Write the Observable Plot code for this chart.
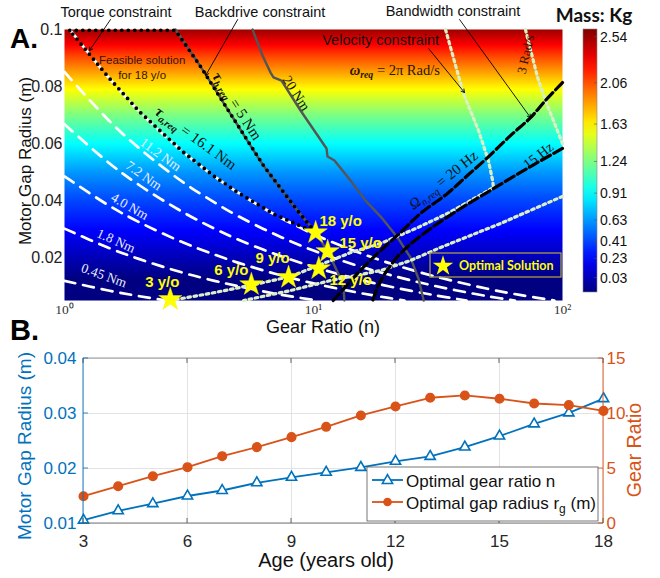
<!DOCTYPE html>
<html>
<head>
<meta charset="utf-8">
<script src="https://cdn.jsdelivr.net/npm/d3@7"></script>
<script src="https://cdn.jsdelivr.net/npm/@observablehq/plot@0.6"></script>
<style>
  html,body{margin:0;padding:0;background:#fff;}
  #wrap{position:relative;width:660px;height:578px;overflow:hidden;}
  #wrap > svg{position:absolute;left:0;}
</style>
</head>
<body>
<div id="wrap"></div>
<script>
// ================= PANEL A DATA =================
// mass (kg) vs motor gap radius, read from colour bar ticks / heat map
const massR  = [0.02, 0.03, 0.04, 0.05, 0.06, 0.07, 0.08, 0.09, 0.10];
const massKg = [0.03, 0.23, 0.41, 0.63, 0.91, 1.24, 1.63, 2.06, 2.54];
const colorbarRange = [-0.12, 2.62];

// torque contours (white dashed): gear ratio n, radius r
const torqueLabels = ["0.45 Nm", "1.8 Nm", "4.0 Nm", "7.2 Nm", "11.2 Nm", "16.1 Nm"];
const tq045N = [1, 1.5, 2, 2.58];
const tq045R = [0.0119, 0.0085, 0.0065, 0.005];
const tq18N  = [1, 1.5, 2, 3, 4, 5, 7, 10.3];
const tq18R  = [0.0302, 0.0235, 0.0195, 0.0147, 0.0119, 0.0100, 0.0074, 0.005];
const tq40N  = [1, 1.5, 2, 3, 4, 5, 7, 10, 15, 20, 23.2];
const tq40R  = [0.0485, 0.0384, 0.0324, 0.0253, 0.0211, 0.0182, 0.0144, 0.0110, 0.0078, 0.0059, 0.005];
const tq72N  = [1, 1.5, 2, 3, 4, 5, 7, 10, 15, 20, 30, 41.2];
const tq72R  = [0.0668, 0.0534, 0.0454, 0.0359, 0.0302, 0.0263, 0.0213, 0.0168, 0.0125, 0.0100, 0.0070, 0.005];
const tq112N = [1, 1.5, 2, 3, 4, 5, 7, 10, 15, 20, 30, 50, 64.4];
const tq112R = [0.0851, 0.0683, 0.0583, 0.0464, 0.0394, 0.0345, 0.0282, 0.0225, 0.0172, 0.0141, 0.0103, 0.0065, 0.005];
const tq161N = [1.05, 1.5, 2, 3, 4, 5, 7, 10, 15, 20, 30, 50, 70, 92.8];
const tq161R = [0.1, 0.0833, 0.0712, 0.0570, 0.0485, 0.0427, 0.0351, 0.0283, 0.0220, 0.0182, 0.0137, 0.0091, 0.0067, 0.005];

// backdrive contours (grey solid)
const bd5N  = [2.79, 3.52, 4.77, 6.3, 8.63, 10.2, 11.2, 12.3, 13.1, 13.3];
const bd5R  = [0.1, 0.087, 0.0688, 0.0523, 0.0365, 0.0288, 0.0232, 0.0162, 0.0103, 0.005];
const bd20N = [5.69, 6.24, 6.72, 6.91, 7.44, 8.87, 11.28, 11.38, 12.14, 14.08, 16.18, 18.93, 21.75, 24.5, 26.4, 27.7];
const bd20R = [0.1, 0.0909, 0.0849, 0.0832, 0.0821, 0.0716, 0.0583, 0.0555, 0.0541, 0.0471, 0.04, 0.0337, 0.0271, 0.0201, 0.0127, 0.005];

// velocity contours (light dotted)
const vel2piN = [33.9, 40.0, 46.0, 50.4, 52.4, 52.8, 42.7, 34.5, 25.7, 18.6, 14.1, 10.7, 8.08, 5.58, 3.86, 2.66];
const vel2piR = [0.1, 0.0776, 0.0646, 0.0541, 0.0471, 0.0446, 0.04, 0.0355, 0.0302, 0.025, 0.0218, 0.0176, 0.0134, 0.0103, 0.0075, 0.005];
const vel3aN  = [71.0, 79.4, 85.4, 93.7, 100];
const vel3aR  = [0.1, 0.0832, 0.0751, 0.0663, 0.06];
const vel3bN  = [100, 56.4, 32.4, 24.5, 18.6, 11.7, 8.1, 5.24];
const vel3bR  = [0.0415, 0.032, 0.0236, 0.019, 0.0155, 0.012, 0.0085, 0.005];

// bandwidth contours (black dashed)
const bw20N = [100, 85.4, 74.4, 61.8, 50.0, 41.5, 34.5, 26.9, 22.4, 18.6, 15.4, 13.4, 12.0];
const bw20R = [0.0814, 0.0751, 0.0691, 0.0628, 0.0551, 0.0488, 0.0425, 0.0355, 0.0289, 0.0225, 0.0155, 0.0096, 0.005];
const bw15N = [100, 82.1, 67.8, 51.4, 38.9, 29.5, 23.4, 20.4, 18.2, 17.3];
const bw15R = [0.0583, 0.0541, 0.0499, 0.0436, 0.0372, 0.0302, 0.0232, 0.0173, 0.0103, 0.005];

// feasible region boundary for 18 y/o (black dotted)
const feasN = [1.05, 2.79, 3.52, 4.77, 6.3, 8.63, 10.2, 7, 5, 4, 3, 2, 1.5, 1.05];
const feasR = [0.0997, 0.0997, 0.087, 0.0688, 0.0523, 0.0365, 0.0288, 0.0351, 0.0427, 0.0485, 0.057, 0.0712, 0.0833, 0.0997];

// optimal solutions (stars)
const starLabels = ["3 y/o", "6 y/o", "9 y/o", "12 y/o", "15 y/o", "18 y/o"];
const starN = [2.66, 5.63, 7.94, 10.5, 11.4, 10.2];
const starR = [0.0054, 0.0106, 0.0131, 0.0162, 0.0222, 0.0288];

const xTicksA = [1, 10, 100];
const xTickLabelsA = ["10\u2070", "10\u00b9", "10\u00b2"];
const yTicksA = [0.02, 0.04, 0.06, 0.08, 0.1];

// ================= PANEL B DATA =================
const ages = [3, 4, 5, 6, 7, 8, 9, 10, 11, 12, 13, 14, 15, 16, 17, 18];
const gapRadius = [0.0106, 0.0123, 0.0136, 0.0150, 0.0160, 0.0174, 0.0184, 0.0193, 0.0202, 0.0213, 0.0222, 0.0239, 0.0259, 0.0281, 0.0301, 0.0327];
const gearRatio = [2.48, 3.39, 4.30, 5.12, 6.12, 6.94, 7.85, 8.79, 9.82, 10.64, 11.43, 11.64, 11.34, 10.91, 10.76, 10.24];
const ageTicks = [3, 6, 9, 12, 15, 18];
const radiusTicks = [0.01, 0.02, 0.03, 0.04];
const gearTicks = [0, 5, 10, 15];

// ================= helpers =================
const SANS = "'Liberation Sans', Arial, sans-serif";
const SERIF = "'Liberation Serif', 'Times New Roman', serif";
const CAL = "Lato, 'Liberation Sans', sans-serif";
const BLUE = "#0072BD", ORANGE = "#D95319";

function jet(t) {
  const c = v => Math.round(255 * Math.max(0, Math.min(1, v)));
  return `rgb(${c(1.5 - Math.abs(4 * t - 3))},${c(1.5 - Math.abs(4 * t - 2))},${c(1.5 - Math.abs(4 * t - 1))})`;
}
const massAt = d3.scaleLinear().domain(massR).range(massKg);
const rows = (id, N, R) => N.map((n, i) => ({id, n, r: R[i]}));

const torqueRows = [
  ...rows(torqueLabels[0], tq045N, tq045R), ...rows(torqueLabels[1], tq18N, tq18R),
  ...rows(torqueLabels[2], tq40N, tq40R), ...rows(torqueLabels[3], tq72N, tq72R),
  ...rows(torqueLabels[4], tq112N, tq112R), ...rows(torqueLabels[5], tq161N, tq161R)
];
const velRows = [...rows("2pi", vel2piN, vel2piR), ...rows("3a", vel3aN, vel3aR), ...rows("3b", vel3bN, vel3bR)];
const bwRows = [...rows("20", bw20N, bw20R), ...rows("15", bw15N, bw15R)];
const feasRows = rows("feas", feasN, feasR);
const stars = starLabels.map((label, i) => ({label, n: starN[i], r: starR[i]}));
const starOffsets = [[-8, -17], [-20, -14], [-16, -19], [32, 12], [33, -8], [25, -11]];

const arrows = [
  {n1: 1.53, r1: 0.1035, n2: 1.26, r2: 0.0926},
  {n1: 4.96, r1: 0.1035, n2: 3.69, r2: 0.0839},
  {n1: 38.6, r1: 0.1035, n2: 74.4, r2: 0.0691},
  {n1: 29.0, r1: 0.0933, n2: 40.4, r2: 0.0779}
];

// ================= PANEL A =================
const wrap = d3.select("#wrap");
const chartA = Plot.plot({
  width: 660, height: 340,
  marginTop: 29, marginRight: 98, marginBottom: 40, marginLeft: 64,
  style: {fontFamily: SANS, background: "white", overflow: "visible"},
  x: {type: "log", domain: [1, 100]},
  y: {domain: [0.005, 0.1]},
  color: {type: "linear", domain: colorbarRange, interpolate: jet, clamp: true},
  marks: [
    Plot.raster({x1: 1, x2: 100, y1: 0.005, y2: 0.1, fill: (n, r) => massAt(r), pixelSize: 1}),
    Plot.line(torqueRows, {x: "n", y: "r", z: "id", stroke: "white", strokeWidth: 2.7, strokeDasharray: "11,8", curve: "catmull-rom"}),
    Plot.line(rows("bd5", bd5N, bd5R), {x: "n", y: "r", stroke: "#555", strokeWidth: 2.4, curve: "catmull-rom"}),
    Plot.line(rows("bd20", bd20N, bd20R), {x: "n", y: "r", stroke: "#555", strokeWidth: 2.4}),
    Plot.line(velRows, {x: "n", y: "r", z: "id", stroke: "#dcf0c4", strokeWidth: 3.2, strokeDasharray: "2.6,3.6"}),
    Plot.line(bwRows, {x: "n", y: "r", z: "id", stroke: "black", strokeWidth: 3.2, strokeDasharray: "10,4", curve: "catmull-rom"}),
    Plot.line(feasRows, {x: "n", y: "r", stroke: "black", strokeWidth: 3.8, strokeDasharray: "0,6.5", strokeLinecap: "round"}),
    Plot.arrow(arrows, {x1: "n1", y1: "r1", x2: "n2", y2: "r2", stroke: "black", strokeWidth: 0.9, headLength: 6}),
    Plot.dot(stars, {x: "n", y: "r", symbol: "star", r: 7.3, fill: "#ffff00", stroke: "#f0f000", strokeWidth: 0.5}),
    ...stars.map((s, i) => Plot.text([s], {x: "n", y: "r", text: "label", dx: starOffsets[i][0], dy: starOffsets[i][1],
      fill: "#ffff00", fontWeight: "bold", fontSize: 15, fontFamily: SANS})),
    Plot.axisX({ticks: xTicksA, tickFormat: (d, i) => xTickLabelsA[xTicksA.indexOf(d)], tickSize: 0, tickPadding: 4,
      label: null, fontSize: 13.5, fontFamily: SERIF, fill: "#333"}),
    Plot.axisY({ticks: yTicksA, tickFormat: d3.format("~g"), tickSize: 0, tickPadding: 2, label: null, fontSize: 16, fill: "#222"})
  ]
});
d3.select(chartA).style("top", "0px");
wrap.node().appendChild(chartA);

// ================= PANEL B =================
const bRows = ages.map((a, i) => ({age: a, radius: gapRadius[i], gear: gearRatio[i]}));
const BT = 340;
const commonB = {width: 660, height: 238, marginTop: 18, marginBottom: 55, marginLeft: 83, marginRight: 57};
const chartB1 = Plot.plot({
  ...commonB,
  style: {fontFamily: SANS, background: "transparent"},
  x: {domain: [3, 18]},
  y: {domain: [0.01, 0.04]},
  marks: [
    Plot.gridX(ageTicks, {stroke: "#e3e3e3", strokeOpacity: 1}),
    Plot.gridY(radiusTicks, {stroke: "#e3e3e3", strokeOpacity: 1}),
    Plot.axisX({ticks: ageTicks, tickSize: 0, tickPadding: 11, label: null, fontSize: 17, fill: "#262626"}),
    Plot.axisY({ticks: radiusTicks, tickFormat: d => d.toFixed(2), tickSize: 0, tickPadding: 7, label: null, fontSize: 17, fill: BLUE}),
    Plot.line(bRows, {x: "age", y: "radius", stroke: BLUE, strokeWidth: 1.8}),
    Plot.dot(bRows, {x: "age", y: "radius", symbol: "triangle", r: 3.8, stroke: BLUE, strokeWidth: 1.6, fill: "white"})
  ]
});
const chartB2 = Plot.plot({
  ...commonB,
  style: {fontFamily: SANS, background: "transparent"},
  x: {domain: [3, 18], axis: null},
  y: {domain: [0, 15]},
  marks: [
    Plot.axisY({anchor: "right", ticks: gearTicks, tickSize: 0, tickPadding: 3, label: null, fontSize: 17, fill: ORANGE}),
    Plot.line(bRows, {x: "age", y: "gear", stroke: ORANGE, strokeWidth: 1.8}),
    Plot.dot(bRows, {x: "age", y: "gear", r: 4.3, fill: ORANGE, stroke: ORANGE})
  ]
});
d3.select(chartB1).style("top", BT + "px");
d3.select(chartB2).style("top", BT + "px");
wrap.node().appendChild(chartB1);
wrap.node().appendChild(chartB2);

// ================= OVERLAY (titles, colour bar, labels, legends) =================
const ov = wrap.append("svg").attr("width", 660).attr("height", 578)
  .style("top", "0px").style("pointer-events", "none");
const sx = chartA.scale("x"), sy = chartA.scale("y");
const X = n => sx.apply(n), Y = r => sy.apply(r);

function txt(x, y, s, o = {}) {
  const t = ov.append("text").attr("x", x).attr("y", y).text(s)
    .attr("font-family", o.family || SANS).attr("font-size", o.size || 14)
    .attr("fill", o.fill || "#111").attr("text-anchor", o.anchor || "middle")
    .attr("dominant-baseline", "central");
  if (o.weight) t.attr("font-weight", o.weight);
  if (o.rotate) t.attr("transform", `rotate(${o.rotate},${x},${y})`);
  return t;
}
function rich(x, y, angle, parts, o) {
  const t = ov.append("text").attr("transform", `translate(${x},${y}) rotate(${angle})`)
    .attr("text-anchor", "middle").attr("dominant-baseline", "central")
    .attr("font-family", o.family || SERIF).attr("font-size", o.size).attr("fill", o.fill || "#111");
  let cur = 0;
  for (const [s, st] of parts) {
    const sp = t.append("tspan").text(s);
    const target = st.includes("s") ? o.size * 0.3 : 0;
    sp.attr("dy", target - cur); cur = target;
    if (st.includes("s")) sp.attr("font-size", o.size * 0.68);
    if (st.includes("b")) sp.attr("font-weight", "bold");
    if (st.includes("i")) sp.attr("font-style", "italic");
  }
}

// panel letters
txt(10, 38, "A.", {size: 28, weight: "bold", anchor: "start", fill: "#000"});
txt(10, 330, "B.", {size: 29, weight: "bold", anchor: "start", fill: "#000"});

// panel A axis titles
txt(25, 161, "Motor Gap Radius (m)", {size: 17, rotate: -90});
txt(323, 327, "Gear Ratio (n)", {size: 18});

// top annotations
txt(116, 12, "Torque constraint", {size: 14.5});
txt(260, 12, "Backdrive constraint", {size: 14.5});
txt(453, 11, "Bandwidth constraint", {size: 14.5});
txt(X(18.7), Y(0.0961), "Velocity constraint", {size: 14.5, fill: "#111"});
txt(X(2.06), Y(0.0891), "Feasible solution", {size: 11.5, fill: "#3a1205"});
txt(X(2.06), Y(0.0839), "for 18 y/o", {size: 11.5, fill: "#3a1205"});

// constraint labels
rich(X(3.39), Y(0.0618), 36, [["\u03c4", "bi"], ["a,req", "sbi"], [" = 16.1 Nm", ""]], {size: 15});
rich(X(4.96), Y(0.073), 57, [["\u03c4", "bi"], ["b,req", "sbi"], [" = 5 Nm", ""]], {size: 15});
rich(X(8.6), Y(0.0776), 57, [["20 Nm", ""]], {size: 14});
rich(X(21.3), Y(0.0856), 0, [["\u03c9", "bi"], ["req", "sbi"], [" = 2\u03c0 Rad/s", ""]], {size: 14.5, fill: "#2a1505"});
rich(X(71.0), Y(0.0912), -77, [["3 Rad/s", ""]], {size: 13, fill: "#2a1505"});
rich(X(33.3), Y(0.0471), -39, [["\u03a9", "i"], ["n,req", "si"], [" = 20 Hz", ""]], {size: 15});
rich(X(80.1), Y(0.0558), -38, [["15 Hz", ""]], {size: 14});
const cLab = [[2.45, 0.0562, 36, "11.2 Nm"], [2.1, 0.0488, 35, "7.2 Nm"], [1.84, 0.038, 30, "4.0 Nm"], [1.62, 0.026, 24, "1.8 Nm"], [1.45, 0.0138, 20, "0.45 Nm"]];
for (const [n, r, a, s] of cLab) rich(X(n), Y(r), a, [[s, ""]], {size: 13.5, fill: "#e8eeff"});

// optimal solution legend box
ov.append("rect").attr("x", 430).attr("y", 253).attr("width", 131).attr("height", 24)
  .attr("fill", "none").attr("stroke", "#a89b4a").attr("stroke-width", 1.3);
ov.append("path").attr("d", d3.symbol(d3.symbolStar, 130)()).attr("transform", "translate(443,266)").attr("fill", "#ffff00");
txt(459, 265, "Optimal Solution", {size: 12.5, weight: "bold", fill: "#ffff00", anchor: "start", family: CAL});

// colour bar
const defs = ov.append("defs");
const grad = defs.append("linearGradient").attr("id", "jetg").attr("x1", 0).attr("y1", 1).attr("x2", 0).attr("y2", 0);
d3.range(0, 1.0001, 0.05).forEach(t => grad.append("stop").attr("offset", t).attr("stop-color", jet(t)));
const cbTop = 29, cbBot = 292, cbX = 583, cbW = 14;
ov.append("rect").attr("x", cbX).attr("y", cbTop).attr("width", cbW).attr("height", cbBot - cbTop)
  .attr("fill", "url(#jetg)").attr("stroke", "#888").attr("stroke-width", 0.6);
const cbY = d3.scaleLinear().domain(colorbarRange).range([cbBot, cbTop]);
massKg.forEach(m => {
  ov.append("line").attr("x1", cbX + cbW - 3).attr("x2", cbX + cbW).attr("y1", cbY(m)).attr("y2", cbY(m)).attr("stroke", "#555").attr("stroke-width", 0.6);
  txt(600, cbY(m), m.toFixed(2), {size: 14, anchor: "start", fill: "#111"});
});
txt(594, 14, "Mass: Kg", {size: 19, weight: "bold", family: CAL, fill: "#111"});

// panel B frame, ticks and titles
const sxB = chartB1.scale("x"), syB = chartB1.scale("y"), syB2 = chartB2.scale("y");
const xL = sxB.apply(3), xR = sxB.apply(18), yT = syB.apply(0.04) + BT, yB = syB.apply(0.01) + BT;
const ln = (x1, y1, x2, y2, c, w) => ov.append("line").attr("x1", x1).attr("y1", y1).attr("x2", x2).attr("y2", y2).attr("stroke", c).attr("stroke-width", w);
ln(xL, yT, xR, yT, "#8a8a8a", 0.9);
ln(xL, yB, xR, yB, "#6a6a6a", 0.9);
ln(xL, yT, xL, yB, BLUE, 0.9);
ln(xR, yT, xR, yB, ORANGE, 0.9);
ageTicks.forEach(a => { const x = sxB.apply(a); ln(x, yB, x, yB - 5, "#444", 0.8); ln(x, yT, x, yT + 5, "#444", 0.8); });
radiusTicks.forEach(v => { const y = syB.apply(v) + BT; ln(xL, y, xL + 5, y, BLUE, 0.8); });
gearTicks.forEach(v => { const y = syB2.apply(v) + BT; ln(xR, y, xR - 5, y, ORANGE, 0.8); });
txt(24, 446, "Motor Gap Radius (m)", {size: 19, rotate: -90, fill: BLUE});
txt(634, 450, "Gear Ratio", {size: 19.5, rotate: -90, fill: ORANGE});
txt(326, 560, "Age (years old)", {size: 20, fill: "#111"});

// panel B legend
ov.append("rect").attr("x", 367).attr("y", 467).attr("width", 231).attr("height", 54)
  .attr("fill", "white").attr("stroke", "#555").attr("stroke-width", 0.8);
ln(372, 480, 403, 480, BLUE, 1.8);
ov.append("path").attr("d", d3.symbol(d3.symbolTriangle, 45)()).attr("transform", "translate(387.5,480.5)")
  .attr("fill", "white").attr("stroke", BLUE).attr("stroke-width", 1.6);
txt(406, 481, "Optimal gear ratio n", {size: 17, anchor: "start", fill: "#111"});
ln(372, 502, 403, 502, ORANGE, 1.8);
ov.append("circle").attr("cx", 387.5).attr("cy", 502).attr("r", 4.3).attr("fill", ORANGE);
const lt = txt(406, 503, "Optimal gap radius r", {size: 17, anchor: "start", fill: "#111"});
lt.append("tspan").attr("dy", 6).attr("font-size", 12).text("g");
lt.append("tspan").attr("dy", -6).text(" (m)");
</script>
</body>
</html>
